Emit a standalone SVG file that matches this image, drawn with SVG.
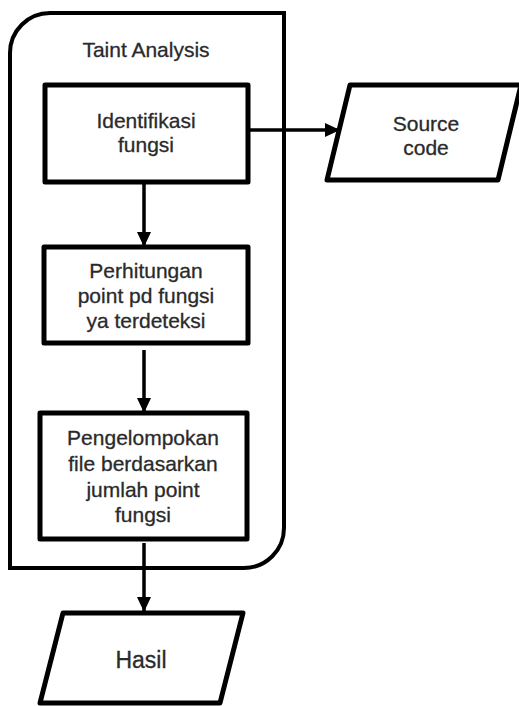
<svg xmlns="http://www.w3.org/2000/svg" width="519" height="706" viewBox="0 0 519 706">
<defs>
<marker id="ah" markerUnits="userSpaceOnUse" markerWidth="16" markerHeight="16" viewBox="0 0 16 16" refX="15" refY="8" orient="auto">
<path d="M0,1 L15,8 L0,15 Z" fill="#000"/>
</marker>
</defs>
<style>
.shape{fill:#fff;stroke:#000;stroke-width:5;stroke-linejoin:round}
.cont{fill:#fff;stroke:#000;stroke-width:4}
.conn{fill:none;stroke:#000;stroke-width:3.5}
text{font-family:"Liberation Sans",Arial,sans-serif;font-size:21px;fill:#2a2a2a;stroke:#2a2a2a;stroke-width:0.3;text-anchor:middle}
</style>
<rect width="519" height="706" fill="#fff"/>
<g id="container">
<path class="cont" d="M10,568 L10,53 A40,40 0 0 1 50,13 L284,13 L284,528 A40,40 0 0 1 244,568 Z"/>
<text x="146" y="57">Taint Analysis</text>
</g>
<g id="connectors">
<line class="conn" x1="144" y1="184" x2="144" y2="247" marker-end="url(#ah)"/>
<line class="conn" x1="144" y1="350" x2="144" y2="413" marker-end="url(#ah)"/>
<line class="conn" x1="144" y1="543" x2="144" y2="612" marker-end="url(#ah)"/>
<line class="conn" x1="250" y1="130" x2="340" y2="130" marker-end="url(#ah)"/>
</g>
<g id="identifikasi">
<rect class="shape" x="45" y="85" width="203" height="97"/>
<text x="146" y="128">Identifikasi</text>
<text x="146" y="152">fungsi</text>
</g>
<g id="perhitungan">
<rect class="shape" x="44" y="247" width="204" height="96"/>
<text x="146" y="278">Perhitungan</text>
<text x="146" y="303">point pd fungsi</text>
<text x="146" y="328">ya terdeteksi</text>
</g>
<g id="pengelompokan">
<rect class="shape" x="40" y="413" width="207" height="126"/>
<text x="143" y="445">Pengelompokan</text>
<text x="143" y="471">file berdasarkan</text>
<text x="143" y="497">jumlah point</text>
<text x="143" y="522">fungsi</text>
</g>
<g id="source">
<polygon class="shape" points="350,85 521,85 498,180 327,180"/>
<text x="426" y="131">Source</text>
<text x="426" y="155">code</text>
</g>
<g id="hasil">
<polygon class="shape" points="63,613 243,613 220,703 40,703"/>
<text x="141" y="668" style="font-size:23px">Hasil</text>
</g>
</svg>
